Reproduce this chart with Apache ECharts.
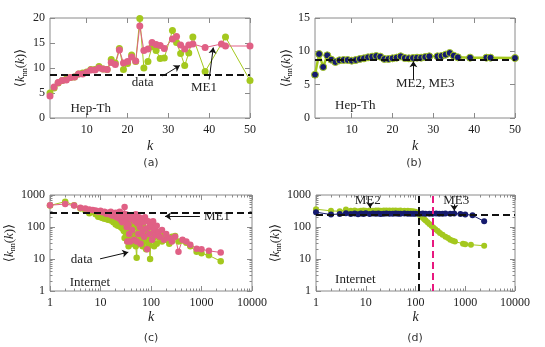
<!DOCTYPE html>
<html>
<head>
<meta charset="utf-8">
<script src="https://cdn.jsdelivr.net/npm/echarts@6/dist/echarts.min.js"></script>
<style>
html, body { margin: 0; padding: 0; background: #fff; }
#main { width: 545px; height: 347px; }
</style>
</head>
<body>
<div id="main"></div>
<script>
// (a) Hep-Th: data vs ME1
const hepDataK = [1,2,3,4,5,6,7,8,9,10,11,12,13,14,15,16,17,18,19,20,21,22,23,24,25,26,27,28,29,31,32,33,34,35,36,39,44,50];
const hepDataV = [5.0,6.0,7.0,7.5,7.8,8.1,8.2,8.8,9.0,9.2,9.7,9.7,10.3,9.8,9.7,11.7,11.0,13.9,9.7,10.9,12.6,11.3,19.9,10.0,11.3,14.3,13.5,11.9,12.0,17.5,15.1,12.9,10.5,13.0,16.2,9.3,16.2,7.5];
const hepMe1K = [1,2,3,4,5,6,7,8,9,10,11,12,13,14,15,16,17,18,19,20,21,22,23,24,25,26,27,28,29,31,32,33,34,35,36,39,43,44,50];
const hepMe1V = [4.4,6.2,7.1,7.5,7.6,8.1,8.2,8.8,8.8,9.1,9.6,9.6,10.0,9.8,9.7,11.1,10.7,13.6,11.0,11.3,12.2,11.4,18.4,13.5,13.8,15.1,14.7,14.5,13.9,15.8,16.3,14.6,13.8,14.6,14.8,14.1,14.8,14.4,14.4];
const hepRef = 8.7;

// (b) Hep-Th: ME2, ME3
const hepMe23K = [1,2,3,4,5,6,7,8,9,10,11,12,13,14,15,16,17,18,19,20,21,22,23,24,25,26,27,28,29,31,32,33,34,35,36,39,43,44,50];
const hepMe23V = [6.5,9.6,7.65,9.4,8.75,8.4,8.65,8.7,8.7,8.6,8.7,8.85,8.95,9.1,9.2,9.3,9.2,8.85,8.85,8.95,9.05,9.25,9.0,8.95,9.0,9.05,9.05,9.15,9.25,9.25,9.3,9.5,9.75,9.35,9.1,9.05,9.05,9.05,9.0];

// (c) Internet: data vs ME1
const netK = [1,2,3,4,5,6,7,8,9,10,11,12,13,14,15,16,17,18,19,20,21,22,23,24,25,26,27,28,29,30,31,32,33,34,35,36,37,38,39,40,42,44,46,48,50,52,54,56,58,60,62,65,68,70,73,76,80,84,88,92,96,100,105,110,115,120,130,140,150,165,180,200,230,260,300,350,420,500,600,800,1000,1400,2400];
const netDataV = [470,620,480,380,330,270,300,250,210,200,
  190,180,185,170,190,160,175,140,165,120,
  150,110,170,130,100,140,90,120,75,45,
  110,60,150,35,80,25,130,50,90,70,
  30,120,45,100,25,11,60,90,30,150,
  40,70,25,110,35,60,20,80,45,30,
  10,60,40,90,25,50,30,70,45,35,
  55,40,30,50,52,35,38,32,25,17,
  15,13,8.5];
const netMe1V = [480,520,470,400,380,350,340,330,300,320,
  290,300,260,280,250,300,230,260,220,280,
  200,240,190,300,170,250,140,260,200,420,
  150,250,100,35,200,120,60,230,35,180,
  80,200,40,150,250,35,130,60,200,100,
  30,180,70,140,50,200,90,20,150,60,
  120,100,40,150,80,55,110,70,50,80,
  40,60,45,35,50,17,40,35,28,21,
  20,18,16];
const netRefC = 280;

// (d) Internet: ME2, ME3
const netMe2K = [1,2,3,4,5,6,7,8,9,10,12,14,16,18,20,23,26,30,35,40,45,50,60,70,80,90,100,110,120,130,140,150,160,175,190,210,230,250,280,310,350,400,450,500,560,620,900,1000,1300,2400];
const netMe2V = [360,320,310,350,320,330,310,320,330,320,330,320,330,325,320,325,330,325,330,325,320,325,320,320,315,310,300,270,240,215,195,175,160,140,125,110,95,85,75,65,57,50,45,40,37,35,30,29,28,26];
const netMe3K = [1,2,3,4,5,6,7,8,9,10,12,14,16,18,20,23,26,30,35,40,45,50,60,70,80,90,100,120,140,160,190,220,260,300,350,400,500,600,800,1000,1400,2400];
const netMe3V = [290,245,255,270,255,265,250,265,255,270,255,265,258,262,255,260,262,258,260,262,258,260,262,258,260,258,260,258,262,260,258,260,262,260,258,262,260,265,255,248,232,150];
const netRefD = 250;
const cutMe2 = 116;
const cutMe3 = 221;

const linXTicks = [10, 20, 30, 40, 50];

const green = '#a4c81e', pink = '#e06085', navy = '#161b6e', magenta = '#e8197f';
const serif = '"Liberation Serif", "DejaVu Serif", serif';
const gray = '#8a8a8a';

const pairs = (ks, vs) => ks.map((k, i) => [k, vs[i]]);

let chart = echarts.init(document.getElementById('main'));

const grids = [
  { left: 50, top: 18, width: 200, height: 100 },
  { left: 315, top: 18, width: 200, height: 100 },
  { left: 50, top: 195, width: 202, height: 96 },
  { left: 316, top: 195, width: 199, height: 96 }
].map(g => Object.assign({ show: true, borderColor: gray, borderWidth: 1, backgroundColor: 'transparent' }, g));

const xAxis = [], yAxis = [];

const yName = '{n|⟨}{i|k}{s|nn}{n|(}{i|k}{n|)⟩}';
const yNameStyle = {
  rich: {
    n: { fontFamily: serif, fontSize: 13, color: '#222', lineHeight: 16 },
    i: { fontFamily: serif, fontSize: 13, fontStyle: 'italic', color: '#222', lineHeight: 16 },
    s: { fontFamily: serif, fontSize: 8, color: '#222', lineHeight: 9, verticalAlign: 'bottom' }
  }
};

function addAxis(dim, gi, cfg) {
  const list = dim === 'x' ? xAxis : yAxis;
  const sides = dim === 'x' ? ['bottom', 'top'] : ['left', 'right'];
  const idx = list.length;
  sides.forEach((side, i) => {
    const a = {
      type: cfg.type, gridIndex: gi, position: side, min: cfg.min, max: cfg.max,
      axisLine: { show: false, onZero: false },
      splitLine: { show: false },
      axisTick: { show: true, inside: true, length: 5, lineStyle: { color: gray } },
      axisLabel: { show: i === 0, fontFamily: serif, fontSize: 12, color: '#222', margin: dim === 'x' ? 6 : 5 }
    };
    if (cfg.type === 'log') {
      a.logBase = 10;
      a.minorTick = { show: true, splitNumber: 9, length: 2.5, lineStyle: { color: gray } };
      a.axisLabel.formatter = v => String(Math.round(v));
    } else if (cfg.ticks) {
      a.axisTick.customValues = cfg.ticks;
      a.axisLabel.customValues = cfg.ticks;
    } else {
      a.interval = cfg.interval;
    }
    if (i === 0) {
      if (dim === 'x') {
        Object.assign(a, { name: 'k', nameLocation: 'middle', nameGap: cfg.gap,
          nameTextStyle: { fontFamily: serif, fontStyle: 'italic', fontSize: 14, color: '#222' } });
      } else {
        Object.assign(a, { name: yName, nameLocation: 'middle', nameRotate: 90, nameGap: cfg.gap,
          nameTextStyle: yNameStyle });
      }
    }
    list.push(a);
  });
  return idx;
}

const xa = addAxis('x', 0, { type: 'value', min: 1, max: 50, ticks: linXTicks, gap: 21 });
const ya = addAxis('y', 0, { type: 'value', min: 0, max: 20, interval: 5, gap: 21 });
const xb = addAxis('x', 1, { type: 'value', min: 1, max: 50, ticks: linXTicks, gap: 21 });
const yb = addAxis('y', 1, { type: 'value', min: 0, max: 15, interval: 5, gap: 20 });
const xc = addAxis('x', 2, { type: 'log', min: 1, max: 10000, gap: 18 });
const yc = addAxis('y', 2, { type: 'log', min: 1, max: 1000, gap: 23 });
const xd = addAxis('x', 3, { type: 'log', min: 1, max: 10000, gap: 18 });
const yd = addAxis('y', 3, { type: 'log', min: 1, max: 1000, gap: 26 });

const dashed = { color: '#111', type: [7, 4], width: 2 };
const refLine = (items, style) => ({
  silent: true, symbol: ['none', 'none'], label: { show: false },
  lineStyle: style || dashed, data: items
});
const arrows = (list) => ({
  silent: true, symbol: ['none', 'arrow'], symbolSize: 6, label: { show: false },
  lineStyle: { color: '#111', type: 'solid', width: 1 },
  data: list.map(p => [{ coord: p[0] }, { coord: p[1] }])
});

function dots(name, xi, yi, data, color, size, extra) {
  return Object.assign({
    name, type: 'line', xAxisIndex: xi, yAxisIndex: yi, data,
    symbol: 'circle', symbolSize: size,
    lineStyle: { color, width: 1 },
    itemStyle: { color },
    z: 3
  }, extra || {});
}

const series = [
  dots('data', xa, ya, pairs(hepDataK, hepDataV), green, 7, {
    markLine: refLine([{ yAxis: hepRef }])
  }),
  dots('ME1', xa, ya, pairs(hepMe1K, hepMe1V), pink, 7),
  { type: 'line', xAxisIndex: xa, yAxisIndex: ya, data: [],
    markLine: arrows([[[28.6, 8.4], [32.8, 10.5]], [[40.0, 7.7], [41.0, 14.1]]]) },

  dots('ME2, ME3', xb, yb, pairs(hepMe23K, hepMe23V), green, 7, {
    lineStyle: { color: green, width: 2.5 },
    itemStyle: { color: navy, borderColor: green, borderWidth: 1 },
    markLine: refLine([{ yAxis: hepRef }])
  }),
  { type: 'line', xAxisIndex: xb, yAxisIndex: yb, data: [],
    markLine: arrows([[[25.1, 5.7], [25.1, 8.5]]]) },

  dots('data', xc, yc, pairs(netK, netDataV), green, 6.5, {
    markLine: refLine([{ yAxis: netRefC }])
  }),
  dots('ME1', xc, yc, pairs(netK, netMe1V), pink, 6.5),
  { type: 'line', xAxisIndex: xc, yAxisIndex: yc, data: [],
    markLine: arrows([[[930, 216], [190, 216]], [[9.8, 10.1], [35.5, 16.3]]]) },

  dots('ME2', xd, yd, pairs(netMe2K, netMe2V), green, 6, {
    markLine: refLine([{ yAxis: netRefD }, { xAxis: cutMe2 }])
  }),
  dots('ME3', xd, yd, pairs(netMe3K, netMe3V), navy, 6, {
    markLine: refLine([{ xAxis: cutMe3 }], { color: magenta, type: [7, 4], width: 2 })
  }),
  { type: 'line', xAxisIndex: xd, yAxisIndex: yd, data: [],
    markLine: arrows([[[12.2, 510], [12.2, 390]], [[600, 510], [600, 320]]]) }
];

const note = (x, y, s) => ({ type: 'text', x, y, z: 10,
  style: { text: s, font: '13px ' + serif, fill: '#222', align: 'center', verticalAlign: 'middle' } });
const caption = (x, y, s) => ({ type: 'text', x, y, z: 10,
  style: { text: s, font: '11px "DejaVu Sans", sans-serif', fill: '#333', align: 'center', verticalAlign: 'middle' } });

chart.setOption({
  animation: false,
  backgroundColor: '#fff',
  grid: grids,
  xAxis,
  yAxis,
  series,
  graphic: [
    note(142.7, 82.7, 'data'), note(204, 87.3, 'ME1'), note(90.7, 108.3, 'Hep-Th'),
    note(425.3, 84, 'ME2, ME3'), note(355.3, 106, 'Hep-Th'),
    note(217, 216.7, 'ME1'), note(81.7, 260, 'data'), note(90, 282.7, 'Internet'),
    note(367.7, 201, 'ME2'), note(456.3, 201, 'ME3'), note(355.3, 280, 'Internet'),
    caption(151, 163, '(a)'), caption(414, 163, '(b)'),
    caption(151, 338, '(c)'), caption(415, 338, '(d)')
  ]
});
</script>
</body>
</html>
